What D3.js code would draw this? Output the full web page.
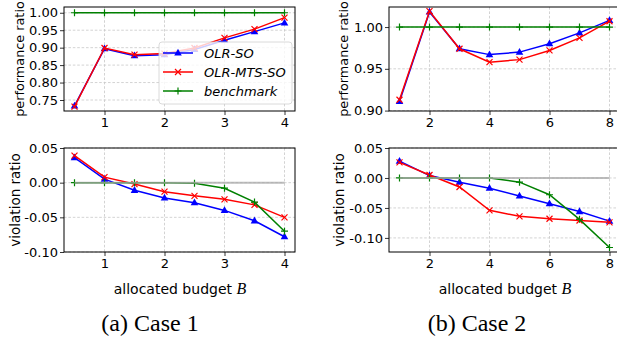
<!DOCTYPE html>
<html>
<head>
<meta charset="utf-8">
<script src="https://cdn.jsdelivr.net/npm/d3@7"></script>
<style>
  body { margin: 0; background: #fff; }
  svg { display: block; font-family: "DejaVu Sans", sans-serif; }
</style>
</head>
<body>
<div class="svg-container"></div>
<script>
// budgets
const budget1 = [0.5, 1, 1.5, 2, 2.5, 3, 3.5, 4];
const budget2 = [1, 2, 3, 4, 5, 6, 7, 8];

// case 1
const perf1Olr = [0.733, 0.897, 0.877, 0.880, 0.895, 0.921, 0.946, 0.971];
const perf1Mts = [0.731, 0.899, 0.880, 0.883, 0.899, 0.928, 0.953, 0.986];
const perf1Bench = [1, 1, 1, 1, 1, 1, 1, 1];
const viol1Olr = [0.036, 0.005, -0.011, -0.022, -0.029, -0.040, -0.055, -0.078];
const viol1Mts = [0.039, 0.008, -0.002, -0.013, -0.019, -0.024, -0.032, -0.050];
const viol1Bench = [0, 0, 0, 0, -0.001, -0.008, -0.028, -0.070];

// case 2
const perf2Olr = [0.911, 1.018, 0.974, 0.967, 0.970, 0.980, 0.993, 1.008];
const perf2Mts = [0.913, 1.019, 0.974, 0.958, 0.961, 0.972, 0.987, 1.007];
const perf2Bench = [1, 1, 1, 1, 1, 1, 1, 1];
const viol2Olr = [0.028, 0.004, -0.007, -0.017, -0.030, -0.043, -0.056, -0.072];
const viol2Mts = [0.026, 0.005, -0.015, -0.054, -0.064, -0.068, -0.071, -0.074];
const viol2Bench = [0, 0, 0, 0, -0.007, -0.028, -0.069, -0.116];

const xTicks1 = [1, 2, 3, 4];
const xTicks2 = [2, 4, 6, 8];
const perfTicks1 = [0.75, 0.80, 0.85, 0.90, 0.95, 1.00];
const perfTicks2 = [0.90, 0.95, 1.00];
const violTicks = [-0.10, -0.05, 0.00, 0.05];

const seriesNames = ["OLR-SO", "OLR-MTS-SO", "benchmark"];
const seriesColors = ["#0000ff", "#ff0000", "#008000"];
const seriesMarkers = ["tri", "x", "plus"];

const svg = d3.select("div.svg-container")
  .append("svg")
  .attr("width", 617)
  .attr("height", 339);

function marker(g, type, color) {
  if (type === "tri") {
    g.append("path").attr("d", "M0,-4.2L3.8,2.6L-3.8,2.6Z").attr("fill", color);
  } else if (type === "x") {
    g.append("path").attr("d", "M-3,-3L3,3M-3,3L3,-3")
      .attr("stroke", color).attr("stroke-width", 1.2).attr("fill", "none");
  } else {
    g.append("path").attr("d", "M-3.5,0L3.5,0M0,-3.5L0,3.5")
      .attr("stroke", color).attr("stroke-width", 1.2).attr("fill", "none");
  }
}

function panel(cfg) {
  const { xs, series, xDomain, yDomain, left, right, top, bottom,
          xTicks, yTicks, yLabel, yLabelX, yLabelSize, zeroLine } = cfg;
  const x = d3.scaleLinear().domain(xDomain).range([left, right]);
  const y = d3.scaleLinear().domain(yDomain).range([bottom, top]);
  const g = svg.append("g");

  const clipId = "clip" + Math.round(left) + "_" + Math.round(top);
  g.append("clipPath").attr("id", clipId)
    .append("rect").attr("x", left).attr("y", top)
    .attr("width", right - left).attr("height", bottom - top);

  // grid
  const grid = g.append("g").attr("stroke", "#c8c8c8")
    .attr("stroke-width", 0.8).attr("stroke-dasharray", "2.6,1.8");
  grid.selectAll(".gx").data(xTicks).join("line")
    .attr("x1", d => x(d)).attr("x2", d => x(d))
    .attr("y1", top).attr("y2", bottom);
  grid.selectAll(".gy").data(yTicks).join("line")
    .attr("x1", left).attr("x2", right)
    .attr("y1", d => y(d)).attr("y2", d => y(d));

  // axes
  const xAxis = g.append("g").attr("transform", `translate(0,${bottom})`)
    .call(d3.axisBottom(x).tickValues(xTicks).tickSizeInner(4)
      .tickSizeOuter(0).tickPadding(3).tickFormat(d3.format("d")));
  const yAxis = g.append("g").attr("transform", `translate(${left},0)`)
    .call(d3.axisLeft(y).tickValues(yTicks).tickSizeInner(4)
      .tickSizeOuter(0).tickPadding(2).tickFormat(d => d.toFixed(2)));
  [xAxis, yAxis].forEach(a => {
    a.select(".domain").remove();
    a.selectAll("text").attr("font-size", 13).attr("fill", "#000")
      .attr("font-family", "DejaVu Sans, sans-serif");
    a.selectAll("line").attr("stroke", "#000").attr("stroke-width", 0.8);
  });

  const plot = g.append("g").attr("clip-path", `url(#${clipId})`);
  const line = d3.line().x(d => x(d[0])).y(d => y(d[1]));
  series.forEach((vals, i) => {
    const pts = xs.map((v, j) => [v, vals[j]]);
    plot.append("path").datum(pts).attr("d", line)
      .attr("fill", "none").attr("stroke", seriesColors[i])
      .attr("stroke-width", 1.5);
    pts.forEach(p => {
      const m = plot.append("g").attr("transform", `translate(${x(p[0])},${y(p[1])})`);
      marker(m, seriesMarkers[i], seriesColors[i]);
    });
  });
  if (zeroLine) {
    plot.append("line")
      .attr("x1", x(xs[0])).attr("x2", x(xs[xs.length - 1]))
      .attr("y1", y(0)).attr("y2", y(0))
      .attr("stroke", "#a8a8a8").attr("stroke-width", 2).attr("opacity", 0.75);
  }

  g.append("rect").attr("x", left).attr("y", top)
    .attr("width", right - left).attr("height", bottom - top)
    .attr("fill", "none").attr("stroke", "#000").attr("stroke-width", 1);

  g.append("text")
    .attr("transform", `translate(${yLabelX},${(top + bottom) / 2}) rotate(-90)`)
    .attr("text-anchor", "middle").attr("dominant-baseline", "central")
    .attr("font-size", yLabelSize).text(yLabel);
  return { x, y, g };
}

function xLabel(cx) {
  const t = svg.append("text").attr("x", cx).attr("y", 294)
    .attr("text-anchor", "middle").attr("font-size", 14);
  t.append("tspan").text("allocated budget ");
  t.append("tspan").attr("font-family", "Liberation Serif, serif")
    .attr("font-style", "italic").attr("font-size", 16).text("B");
}

// case 1
panel({
  xs: budget1, series: [perf1Olr, perf1Mts, perf1Bench],
  xDomain: [0.325, 4.175], yDomain: [0.7185, 1.0165],
  left: 64, right: 295, top: 7, bottom: 111,
  xTicks: xTicks1, yTicks: perfTicks1, yLabel: "performance ratio",
  yLabelX: 19, yLabelSize: 12.8
});
panel({
  xs: budget1, series: [viol1Olr, viol1Mts, viol1Bench],
  xDomain: [0.325, 4.175], yDomain: [-0.10, 0.05],
  left: 64, right: 295, top: 148, bottom: 252,
  xTicks: xTicks1, yTicks: violTicks, yLabel: "violation ratio",
  yLabelX: 15, yLabelSize: 13.5, zeroLine: true
});
// case 2
panel({
  xs: budget2, series: [perf2Olr, perf2Mts, perf2Bench],
  xDomain: [0.65, 8.35], yDomain: [0.8995, 1.024],
  left: 389, right: 620, top: 7, bottom: 111,
  xTicks: xTicks2, yTicks: perfTicks2, yLabel: "performance ratio",
  yLabelX: 343, yLabelSize: 12.8
});
panel({
  xs: budget2, series: [viol2Olr, viol2Mts, viol2Bench],
  xDomain: [0.65, 8.35], yDomain: [-0.1235, 0.05],
  left: 389, right: 620, top: 148, bottom: 252,
  xTicks: xTicks2, yTicks: violTicks, yLabel: "violation ratio",
  yLabelX: 339, yLabelSize: 13.5, zeroLine: true
});

xLabel(180);
xLabel(505);

// legend (case 1, top)
const lg = svg.append("g").attr("transform", "translate(159,42)");
lg.append("rect").attr("width", 133).attr("height", 62).attr("rx", 3)
  .attr("fill", "#fff").attr("fill-opacity", 0.8)
  .attr("stroke", "#d0d0d0").attr("stroke-width", 0.8);
seriesNames.forEach((name, i) => {
  const yy = 11 + i * 19;
  lg.append("line").attr("x1", 4).attr("x2", 34).attr("y1", yy).attr("y2", yy)
    .attr("stroke", seriesColors[i]).attr("stroke-width", 1.5);
  marker(lg.append("g").attr("transform", `translate(19,${yy})`), seriesMarkers[i], seriesColors[i]);
  lg.append("text").attr("x", 45).attr("y", yy).attr("dominant-baseline", "central")
    .attr("font-size", 13).attr("font-style", "italic").text(name);
});

// captions
svg.append("text").attr("x", 150).attr("y", 331).attr("text-anchor", "middle")
  .attr("font-family", "Liberation Serif, serif").attr("font-size", 24).text("(a) Case 1");
svg.append("text").attr("x", 477).attr("y", 331).attr("text-anchor", "middle")
  .attr("font-family", "Liberation Serif, serif").attr("font-size", 24).text("(b) Case 2");
</script>
</body>
</html>
